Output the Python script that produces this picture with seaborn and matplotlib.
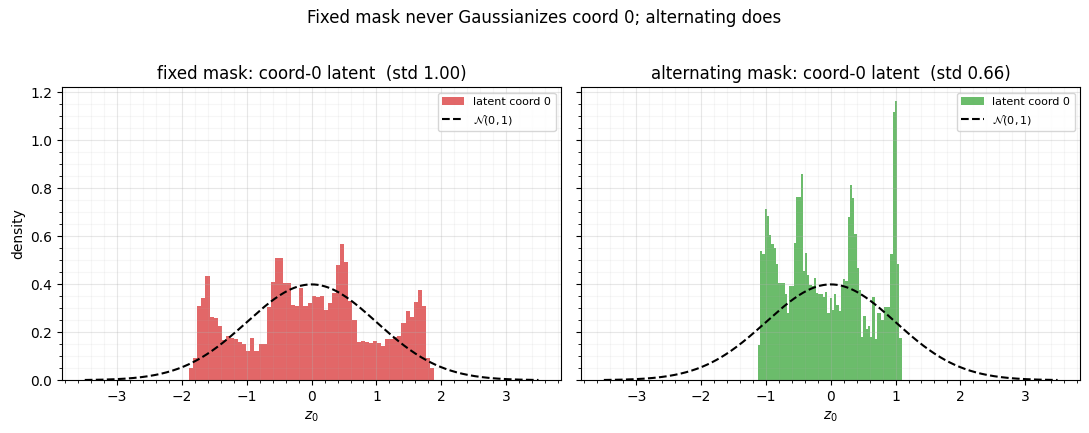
import numpy as np
import pandas as pd
import matplotlib
matplotlib.use("Agg")
import matplotlib.pyplot as plt
import seaborn as sns

# histogram heights (density)
fixed_lo, fixed_hi = -1.89, 1.89
fixed_density = [
    0.050, 0.094, 0.308, 0.342, 0.436, 0.262, 0.258, 0.224, 0.166, 0.182,
    0.174, 0.170, 0.159, 0.149, 0.121, 0.174, 0.121, 0.149, 0.152, 0.304,
    0.409, 0.511, 0.511, 0.405, 0.405, 0.313, 0.308, 0.384, 0.308, 0.322,
    0.350, 0.346, 0.350, 0.292, 0.322, 0.362, 0.480, 0.569, 0.493, 0.331,
    0.251, 0.159, 0.163, 0.159, 0.155, 0.163, 0.155, 0.141, 0.170, 0.173,
    0.180, 0.184, 0.239, 0.287, 0.262, 0.325, 0.376, 0.308, 0.094, 0.050,
]

alt_lo, alt_hi = -1.125, 1.094
alt_density = [
    0.145, 0.539, 0.527, 0.715, 0.682, 0.604, 0.567, 0.549, 0.486, 0.405,
    0.404, 0.404, 0.359, 0.280, 0.392, 0.392, 0.571, 0.763, 0.763, 0.857,
    0.455, 0.528, 0.439, 0.395, 0.393, 0.425, 0.362, 0.358, 0.357, 0.345,
    0.367, 0.279, 0.341, 0.294, 0.359, 0.313, 0.289, 0.390, 0.420, 0.413,
    0.681, 0.813, 0.760, 0.611, 0.467, 0.376, 0.180, 0.269, 0.212, 0.225,
    0.178, 0.348, 0.173, 0.280, 0.280, 0.250, 0.303, 0.303, 0.303, 0.525,
    1.117, 1.163, 0.486, 0.176,
]

panel_titles = ["fixed mask: coord-0 latent  (std 1.00)",
                "alternating mask: coord-0 latent  (std 0.66)"]
panel_colors = ["tab:red", "tab:green"]


def draw_panel(ax, lo, hi, dens, color, title):
    n = len(dens)
    edges = np.linspace(lo, hi, n + 1)
    df = pd.DataFrame({"z": 0.5 * (edges[:-1] + edges[1:]), "w": dens})
    sns.histplot(data=df, x="z", weights="w", bins=n, binrange=(lo, hi),
                 stat="count", color=color, alpha=0.7, linewidth=0, ax=ax,
                 label="latent coord 0")
    # reference standard normal
    zz = np.linspace(-3.5, 3.5, 400)
    pdf = np.exp(-0.5 * zz ** 2) / np.sqrt(2 * np.pi)
    sns.lineplot(x=zz, y=pdf, color="black", linestyle="--", lw=1.5,
                 ax=ax, label=r"$\mathcal{N}(0,1)$")
    ax.set_title(title, fontsize=12)
    ax.set_xlabel("$z_0$")
    ax.minorticks_on()
    ax.grid(True, which="major", alpha=0.3)
    ax.grid(True, which="minor", alpha=0.1)
    # histogram first in the legend
    h, l = ax.get_legend_handles_labels()
    order = [l.index("latent coord 0"), l.index(r"$\mathcal{N}(0,1)$")]
    ax.legend([h[i] for i in order], [l[i] for i in order],
              loc="upper right", fontsize=8)


fig, axes = plt.subplots(1, 2, figsize=(10.89, 4.33), dpi=100, sharey=True)
draw_panel(axes[0], fixed_lo, fixed_hi, fixed_density, panel_colors[0], panel_titles[0])
draw_panel(axes[1], alt_lo, alt_hi, alt_density, panel_colors[1], panel_titles[1])
axes[0].set_ylabel("density")
axes[1].set_ylabel("")

fig.suptitle("Fixed mask never Gaussianizes coord 0; alternating does", fontsize=12)
fig.subplots_adjust(left=0.057, right=0.992, bottom=0.122, top=0.799, wspace=0.04)
fig.savefig("out.png", dpi=100)
